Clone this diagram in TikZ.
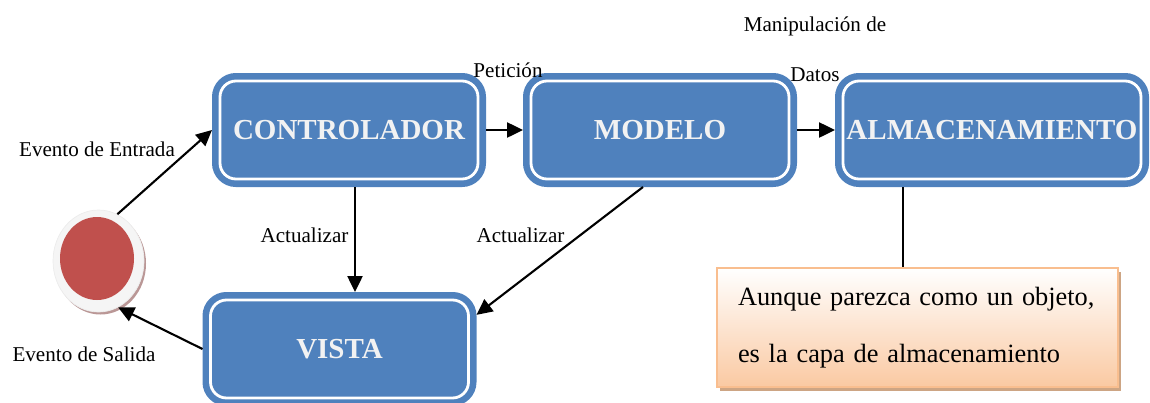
\documentclass[tikz,border=0pt]{standalone}
\usepackage{fontspec}
\setmainfont{Liberation Serif}
\usetikzlibrary{arrows.meta,shapes.geometric,shadows}
\definecolor{mvcblue}{HTML}{4F81BD}
\definecolor{mvcred}{HTML}{C0504D}
\definecolor{mvctext}{HTML}{F2F2F2}
\definecolor{notepeach}{HTML}{FAC9A2}
\definecolor{noteline}{HTML}{F9BE8F}
\definecolor{noteshadow}{HTML}{CDA584}

\begin{document}
\begin{tikzpicture}[
    layer/.style={rectangle, rounded corners=0.32cm, minimum width=5.16cm,
      minimum height=1.96cm, inner sep=0pt, outer sep=0.16cm,
      preaction={draw=mvcblue, line width=0.32cm}, fill=mvcblue,
      draw=white, line width=1.6pt, text=mvctext,
      font=\fontsize{16.5}{18}\selectfont\bfseries},
    flow/.style={-{Triangle[length=9pt,width=8.5pt]}, line width=1.2pt},
    tag/.style={font=\fontsize{12}{14}\selectfont}
  ]
    \useasboundingbox (0,0) rectangle (23,8.04);
    % Layers
    \node[layer] (ctrl) at (6.98,5.44) {CONTROLADOR};
    \node[layer] (modelo) at (13.2,5.44) {MODELO};
    \node[layer, minimum width=5.96cm] (almac) at (19.84,5.44) {ALMACENAMIENTO};
    \node[layer] (vista) at (6.79,1.06) {VISTA};
    % Event
    \node[ellipse, minimum width=1.82cm, minimum height=2.04cm, inner sep=0pt,
      fill=gray!8, draw=gray!15,
      drop shadow={shadow xshift=0.04cm, shadow yshift=-0.05cm,
        fill=mvcred!45!gray!70, opacity=1}] (evento) at (1.97,2.82) {};
    \fill[mvcred] ([shift={(-0.03,0.05)}]evento.center)
    ellipse [x radius=0.74cm, y radius=0.83cm];
    % Note
    \node[rectangle, minimum width=8.02cm, minimum height=2.38cm,
      inner xsep=0.42cm, text width=7.18cm, align=left,
      draw=noteline, line width=1pt, top color=white, bottom color=notepeach,
      drop shadow={shadow xshift=0.06cm, shadow yshift=-0.08cm,
        fill=noteshadow, opacity=1},
      font=\fontsize{15}{32.4}\selectfont] (nota) at (18.35,1.49)
    {Aunque parezca como un objeto,\\ es la capa de almacenamiento};
    % Arrows
    \draw[flow] (evento.68) -- (ctrl.west);
    \draw[flow] (ctrl.east) -- (modelo.west);
    \draw[flow] (modelo.east) -- (almac.west);
    \draw[flow] ([xshift=0.12cm]ctrl.south) -- ([xshift=0.12cm]ctrl.south |- vista.north);
    \draw[flow] ([xshift=-0.34cm]modelo.south) -- (vista.14);
    \draw[flow] (vista.west) -- (evento.-67);
    \draw[line width=0.8pt] ([xshift=-1.78cm]almac.south)
    -- ([xshift=-1.78cm]almac.south |- nota.north);
    % Labels
    \node[tag] (entrada) at (1.94,5.06) {Evento de Entrada};
    \node[tag] (salida) at (1.68,0.96) {Evento de Salida};
    \node[tag] (act1) at (6.09,3.34) {Actualizar};
    \node[tag] (act2) at (10.41,3.34) {Actualizar};
    \node[tag] (peticion) at (10.16,6.64) {Petición};
    \node[tag] (manip) at (16.3,7.52) {Manipulación de};
    \node[tag] (datos) at (16.3,6.54) {Datos};
  \end{tikzpicture}
\end{document}
